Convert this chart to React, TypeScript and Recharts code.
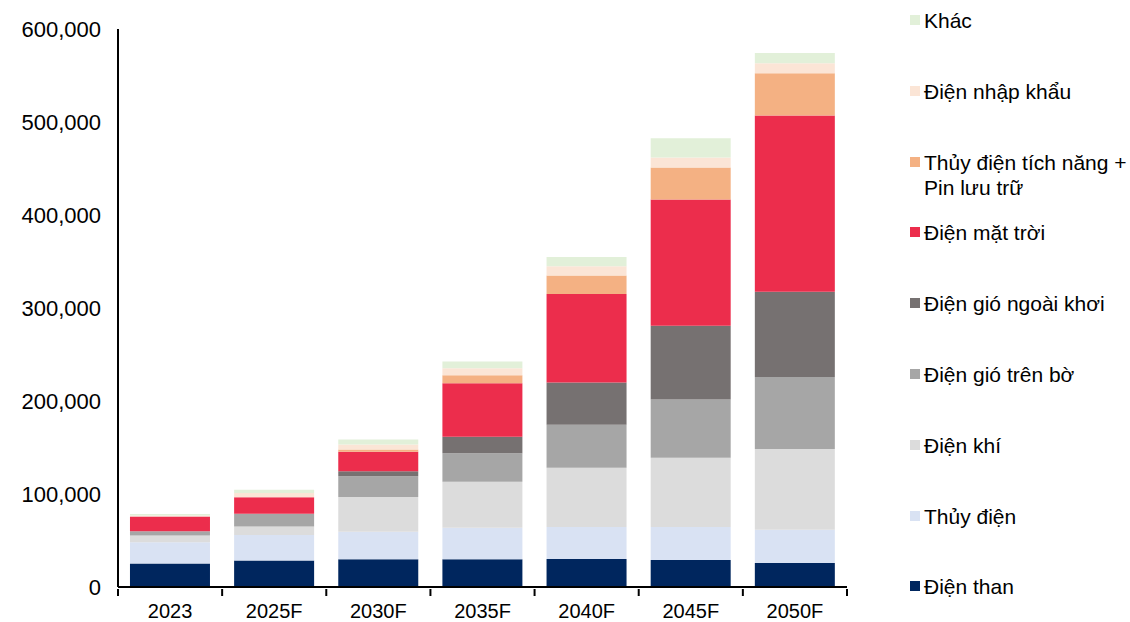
import { BarChart, Bar, XAxis, YAxis } from "recharts";

const years = ["2023", "2025F", "2030F", "2035F", "2040F", "2045F", "2050F"];

const coal = [25200, 28400, 29900, 29900, 30200, 29100, 25700];
const hydro = [23000, 27400, 29500, 33800, 34200, 35300, 35800];
const gas = [7200, 9300, 37400, 49600, 63700, 74500, 86800];
const windOnshore = [4600, 13700, 22300, 30600, 46400, 62600, 77400];
const windOffshore = [0, 0, 5400, 17600, 45300, 79500, 91700];
const solar = [15900, 17600, 20900, 57500, 95300, 135600, 189700];
const storage = [0, 0, 2500, 8600, 19800, 34500, 45400];
const imported = [1000, 4700, 5400, 7500, 10000, 10800, 10800];
const other = [1500, 3600, 5400, 7500, 10000, 20500, 10800];

const yTicks = [0, 100000, 200000, 300000, 400000, 500000, 600000];

const series = [
  { key: "coal", name: "Điện than", values: coal, color: "#00265E" },
  { key: "hydro", name: "Thủy điện", values: hydro, color: "#D9E2F3" },
  { key: "gas", name: "Điện khí", values: gas, color: "#DCDCDC" },
  { key: "windOnshore", name: "Điện gió trên bờ", values: windOnshore, color: "#A6A6A6" },
  { key: "windOffshore", name: "Điện gió ngoài khơi", values: windOffshore, color: "#767171" },
  { key: "solar", name: "Điện mặt trời", values: solar, color: "#EC2D4C" },
  { key: "storage", name: "Thủy điện tích năng +\nPin lưu trữ", values: storage, color: "#F4B183" },
  { key: "imported", name: "Điện nhập khẩu", values: imported, color: "#FBE5D6" },
  { key: "other", name: "Khác", values: other, color: "#E2F0D9" },
];

const data = years.map((year, i) => {
  const row: Record<string, string | number> = { year };
  series.forEach((s) => {
    row[s.key] = s.values[i];
  });
  return row;
});

const FONT = "'Liberation Sans', Arial, sans-serif";

const XTick = (props: any) => {
  const { x, y, payload, index, width, visibleTicksCount } = props;
  const bw = width && visibleTicksCount ? width / visibleTicksCount : 104.3;
  const last = index === visibleTicksCount - 1;
  return (
    <g>
      <line x1={x - bw / 2} y1={y} x2={x - bw / 2} y2={y + 7} stroke="#000" strokeWidth={2} />
      {last && <line x1={x + bw / 2} y1={y} x2={x + bw / 2} y2={y + 7} stroke="#000" strokeWidth={2} />}
      <text x={x} y={y + 29} textAnchor="middle" fontSize={20} fill="#000" fontFamily={FONT}>
        {payload.value}
      </text>
    </g>
  );
};

const LegendBox = () => (
  <div style={{ position: "absolute", left: 905, top: 0, width: 225, height: 622, fontFamily: FONT }}>
    {[...series].reverse().map((s, i) => {
      const lines = s.name.split("\n");
      return (
        <div key={s.key} style={{ position: "absolute", left: 0, top: 20 + i * 70.8 - 12, height: 24 }}>
          <div style={{ position: "absolute", left: 5, top: 7, width: 10, height: 10, background: s.color }} />
          <div style={{ position: "absolute", left: 19, top: 0, fontSize: 21, lineHeight: "25px", whiteSpace: "nowrap", color: "#000" }}>
            {lines.map((l) => (
              <div key={l}>{l}</div>
            ))}
          </div>
        </div>
      );
    })}
  </div>
);

export default function App() {
  return (
    <div style={{ position: "absolute", left: 0, top: 0, width: 1130, height: 622, background: "#fff" }}>
      <BarChart
        width={1130}
        height={622}
        data={data}
        margin={{ top: 29, right: 283, bottom: 0, left: 0 }}
        barCategoryGap="11.5%"
      >
        <XAxis
          dataKey="year"
          height={35}
          interval={0}
          tickLine={false}
          tickSize={0}
          axisLine={{ stroke: "#000", strokeWidth: 2 }}
          tick={<XTick />}
        />
        <XAxis xAxisId="top" orientation="top" height={0} tick={false} tickLine={false} axisLine={{ stroke: "#000", strokeWidth: 2 }} />
        <YAxis
          width={118}
          domain={[0, 600000]}
          ticks={yTicks}
          tickLine={false}
          tickSize={0}
          tickMargin={17}
          axisLine={{ stroke: "#000", strokeWidth: 2 }}
          tickFormatter={(v: number) => v.toLocaleString("en-US")}
          tick={{ fontSize: 22, fill: "#000", fontFamily: FONT }}
        />
        <YAxis yAxisId="right" orientation="right" width={0} tick={false} tickLine={false} axisLine={{ stroke: "#000", strokeWidth: 2 }} />
        {series.map((s) => (
          <Bar key={s.key} dataKey={s.key} name={s.name} stackId="a" fill={s.color} isAnimationActive={false} />
        ))}
      </BarChart>
      <LegendBox />
    </div>
  );
}
